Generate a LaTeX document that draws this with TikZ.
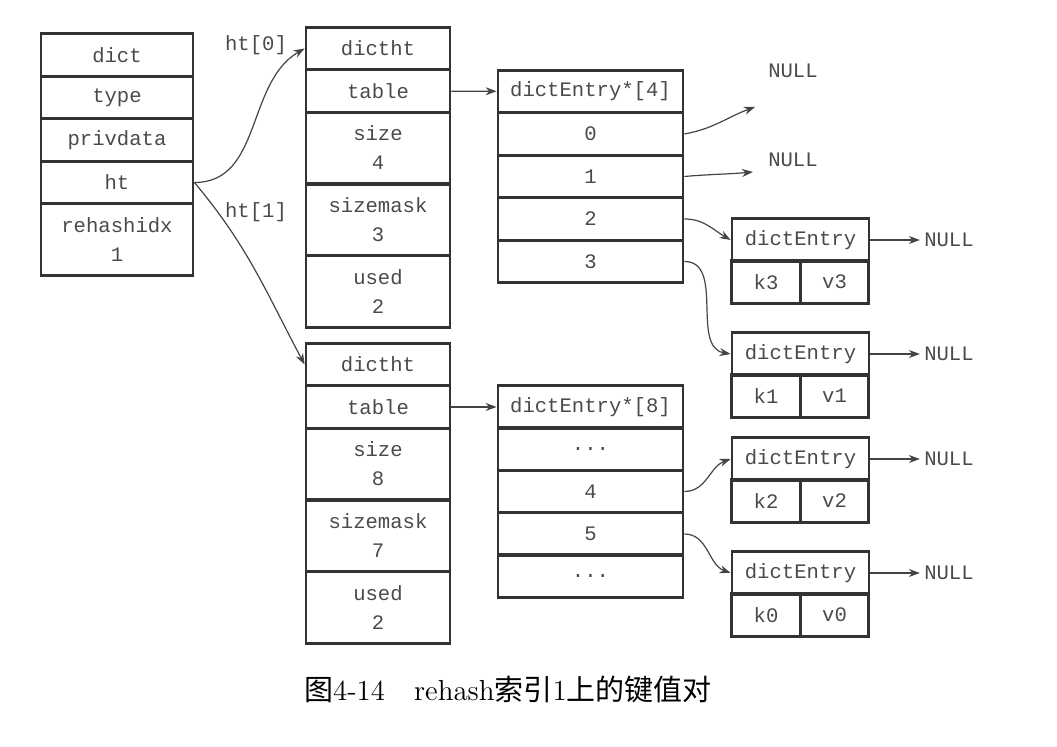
\documentclass[tikz,border=0pt]{standalone}
\usepackage{fontspec}
\setmonofont{Liberation Mono}
\newfontfamily\cjk{Noto Sans CJK SC}
\usetikzlibrary{arrows.meta}
\definecolor{boxline}{HTML}{333333}
\definecolor{txtgray}{HTML}{4A4A4A}
\definecolor{ptrgray}{HTML}{444444}
\newcommand\cellfont{\ttfamily\fontsize{10.3}{14.5}\selectfont}
\newcommand\skipmark{...}
\tikzset{
  cell/.style={draw=boxline,line width=1.4pt,inner sep=0pt,minimum height=21.25pt,
    text=txtgray,font=\cellfont,align=center},
  tall/.style={minimum height=35.75pt},
  dcol/.style={minimum width=76pt},
  hcol/.style={minimum width=72pt},
  tcol/.style={minimum width=92.5pt},
  ecol/.style={minimum width=68.5pt},
  kcol/.style={minimum width=34.25pt},
  label/.style={text=txtgray,font=\cellfont,inner sep=2pt},
  ptr/.style={draw=ptrgray,line width=0.6pt,-{Stealth[length=5.5pt,width=4pt]}}
}
\begin{document}
\begin{tikzpicture}[x=0.5pt,y=-0.5pt]
  \useasboundingbox (0,0) rectangle (1057,747);
  % dict
  \node[cell,dcol] (dict) at (117,55) {dict};
  \node[cell,dcol] (type) at (117,97.5) {type};
  \node[cell,dcol] (priv) at (117,140) {privdata};
  \node[cell,dcol] (ht) at (117,182.5) {ht};
  \node[cell,dcol,tall] (rehash) at (117,239.5) {rehashidx\\1};
  % ht[0] / ht[1]
  \foreach \h/\dy/\s/\m in {0/0/4/3,1/316/8/7} {
    \node[cell,hcol] (dht\h) at (378,48.5+\dy) {dictht};
    \node[cell,hcol] (tab\h) at (378,91+\dy) {table};
    \node[cell,hcol,tall] (size\h) at (378,148+\dy) {size\\\s};
    \node[cell,hcol,tall] (mask\h) at (378,220+\dy) {sizemask\\\m};
    \node[cell,hcol,tall] (used\h) at (378,291.5+\dy) {used\\2};
  }
  \node[label] (l0) at (256,45) {ht[0]};
  \node[label] (l1) at (256,212) {ht[1]};
  % bucket arrays
  \node[cell,tcol] (arr0) at (590.5,91.5) {dictEntry*[4]};
  \foreach \i/\y in {0/134,1/176.5,2/219,3/261.5}
    \node[cell,tcol] (b0-\i) at (590.5,\y) {\i};
  \node[cell,tcol] (arr1) at (590.5,407) {dictEntry*[8]};
  \foreach \i/\t/\y in {a/\skipmark/449,4/4/491.5,5/5/534,b/\skipmark/576}
    \node[cell,tcol] (b1-\i) at (590.5,\y) {\t};
  % entries
  \foreach \k/\top in {3/219,1/333,2/438,0/552} {
    \node[cell,ecol] (e\k) at (800.5,\top+21) {dictEntry};
    \node[cell,kcol] (k\k) at (766,\top+63) {k\k};
    \node[cell,kcol] (v\k) at (834.5,\top+63) {v\k};
    \node[label] (n\k) at (949,\top+21) {NULL};
    \draw[ptr] (e\k) -- (n\k);
  }
  \node[label] (nA) at (793,71) {NULL};
  \node[label] (nB) at (793,160) {NULL};
  \coordinate (pA) at (755,107);
  \coordinate (pB) at (753,172);
  % pointers
  \draw[ptr] (ht.east) to[out=0,in=210] (dht0.west);
  \draw[ptr] (ht.east) to[out=-50,in=118] (dht1.west);
  \draw[ptr] (tab0) -- (arr0);
  \draw[ptr] (tab1) -- (arr1);
  \draw[ptr] (b0-0.east) to[out=10,in=200] (pA);
  \draw[ptr] (b0-1.east) to[out=5,in=185] (pB);
  \draw[ptr] (b0-2.east) to[out=0,in=150] (e3.west);
  \draw[ptr] (b0-3.east) to[out=0,in=170] (e1.west);
  \draw[ptr] (b1-4.east) to[out=0,in=200] (e2.west);
  \draw[ptr] (b1-5.east) to[out=0,in=160] (e0.west);
  % caption
  \node[font=\fontsize{14.5}{17}\selectfont] (cap) at (508,690)
    {{\cjk 图}4-14\quad rehash{\cjk 索引}1{\cjk 上的键值对}};
\end{tikzpicture}
\end{document}
